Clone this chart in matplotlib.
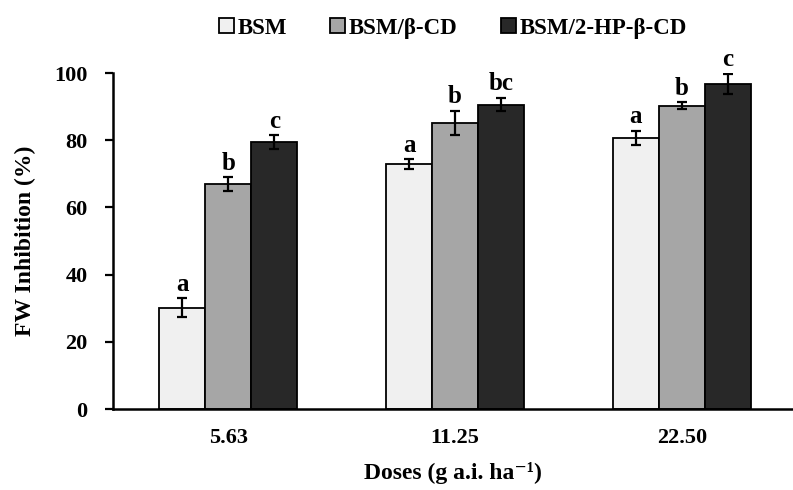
import matplotlib.pyplot as plt
import numpy as np

plt.rcParams['font.family'] = ['Liberation Serif', 'DejaVu Serif']
plt.rcParams['font.weight'] = 'bold'

doses = ["5.63", "11.25", "22.50"]
series = ["BSM", "BSM/β-CD", "BSM/2-HP-β-CD"]
values = [
    [30.2, 72.8, 80.7],
    [67.0, 85.2, 90.3],
    [79.5, 90.6, 96.8],
]
errors = [
    [2.8, 1.5, 2.0],
    [2.0, 3.5, 1.0],
    [2.0, 2.0, 3.0],
]
letters = [
    ["a", "a", "a"],
    ["b", "b", "b"],
    ["c", "bc", "c"],
]
colors = ["#f0f0f0", "#a6a6a6", "#282828"]

fig = plt.figure(figsize=(7.93, 4.9), dpi=100)
ax = fig.add_axes([0.142, 0.165, 0.858, 0.686])

x = np.arange(len(doses))
w = 0.203
for i in range(3):
    pos = x + (i - 1) * w
    ax.bar(pos, values[i], w, color=colors[i], edgecolor="black", linewidth=1.3,
           label=series[i], zorder=2)
    ax.errorbar(pos, values[i], yerr=errors[i], fmt="none", ecolor="black",
                elinewidth=1.6, capsize=3.5, capthick=1.6, zorder=3)
    for j in range(3):
        ax.text(pos[j], values[i][j] + errors[i][j] + 0.8, letters[i][j],
                ha="center", va="bottom", fontsize=18, fontweight="bold")

ax.set_xlim(-0.51, 2.49)
ax.set_ylim(0, 100)
ax.set_yticks([0, 20, 40, 60, 80, 100])
ax.set_xticks(x)
ax.set_xticklabels(doses)
ax.tick_params(axis="x", length=0, pad=13.5, labelsize=16)
ax.tick_params(axis="y", length=6, width=1.6, direction="out", pad=12, labelsize=16)
for s in ["top", "right"]:
    ax.spines[s].set_visible(False)
for s in ["left", "bottom"]:
    ax.spines[s].set_linewidth(1.8)

ax.set_ylabel("FW Inhibition (%)", fontsize=17, fontweight="bold", labelpad=13)
ax.set_xlabel("Doses (g a.i. ha\u207b\u00b9)", fontsize=17, fontweight="bold", labelpad=10)

ax.legend(loc="lower center", bbox_to_anchor=(0.5, 1.075), ncol=3, frameon=False,
          fontsize=16.5, handlelength=0.65, handleheight=0.65, handletextpad=0.15,
          columnspacing=1.9, borderaxespad=0)

plt.savefig("out.png", dpi=100)
plt.close()
